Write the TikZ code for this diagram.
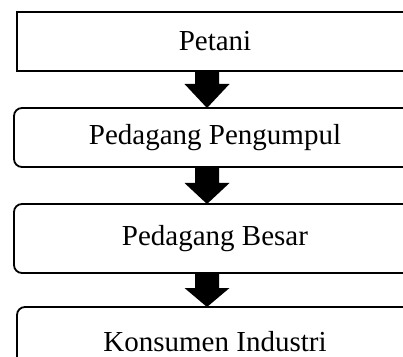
\documentclass[tikz,border=0pt]{standalone}
\usepackage{fontspec}
\setmainfont{Liberation Serif}
\usetikzlibrary{calc}
\tikzset{
  box/.style={draw=black, line width=1.8pt, fill=white, inner sep=0pt, outer sep=0pt,
    font=\fontsize{29}{34}\selectfont, anchor=center},
  rbox/.style={box, rounded corners=8pt},
  flowarrow/.style={fill=black, draw=none}
}
\begin{document}
\begin{tikzpicture}[x=1pt,y=1pt]
\useasboundingbox (0,0) rectangle (403,356);
\node[box, minimum width=396pt, minimum height=59pt] (petani) at (215,314.8) {Petani};
\node[rbox, minimum width=402pt, minimum height=59pt] (pengumpul) at (215,218.5) {Pedagang Pengumpul};
\node[rbox, minimum width=402pt, minimum height=69pt] (besar) at (215,117.5) {Pedagang Besar};
\node[rbox, minimum width=396pt, minimum height=74pt] (konsumen) at (215,12) {\raisebox{6pt}{Konsumen Industri}};
\foreach \a/\b/\h in {petani/pengumpul/24, pengumpul/besar/21, besar/konsumen/19}{
  \coordinate (top) at ($(\a.south)+(-8,0)$);
  \coordinate (tip) at ($(\b.north)+(-8,0)$);
  \fill[flowarrow] ($(top)+(-12,0)$) -- ($(tip)+(-12,\h)$) -- ($(tip)+(-22.5,\h)$) -- (tip)
    -- ($(tip)+(22.5,\h)$) -- ($(tip)+(12,\h)$) -- ($(top)+(12,0)$) -- cycle;
}
\end{tikzpicture}
\end{document}
